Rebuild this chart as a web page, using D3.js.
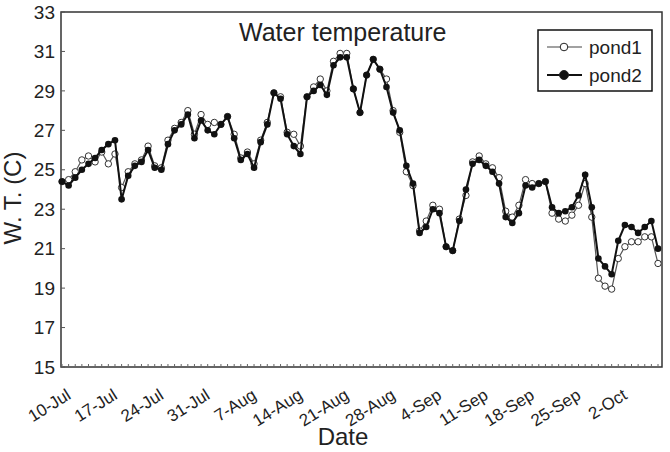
<!DOCTYPE html>
<html>
<head>
<meta charset="utf-8">
<script src="https://cdn.jsdelivr.net/npm/d3@7"></script>
<style>
  body { margin: 0; background: white; }
  svg { font-family: Arial, "Liberation Sans", sans-serif; }
</style>
</head>
<body>
<div id="chart"></div>
<script>
// chart data
const startDate = new Date(2010, 6, 10); // 10-Jul
const endDate = new Date(2010, 9, 8);    // 8-Oct
const dates = d3.timeDay.range(startDate, d3.timeDay.offset(endDate, 1));

const pond1 = [24.4, 24.5, 24.9, 25.5, 25.7, 25.4, 25.9, 25.3, 25.8, 24.1,
  24.9, 25.3, 25.5, 26.2, 25.2, 25.1, 26.5, 27.1, 27.4, 28.0,
  26.8, 27.8, 27.3, 27.4, 27.3, 27.7, 26.8, 25.6, 25.9, 25.3,
  26.5, 27.4, 28.9, 28.7, 26.9, 26.8, 26.2, 28.7, 29.2, 29.6,
  29.0, 30.5, 30.9, 30.9, 29.1, 27.9, 29.8, 30.6, 30.1, 29.6,
  28.0, 26.9, 24.9, 24.2, 21.9, 22.4, 23.2, 23.0, 21.1, 20.9,
  22.5, 23.7, 25.4, 25.7, 25.3, 25.1, 24.6, 22.9, 22.6, 23.2,
  24.5, 24.3, 24.3, 24.4, 22.8, 22.5, 22.4, 22.7, 23.2, 24.3,
  22.6, 19.5, 19.1, 18.95, 20.5, 21.1, 21.35, 21.35, 21.6, 21.6,
  20.25];

const pond2 = [24.4, 24.2, 24.6, 25.0, 25.3, 25.6, 26.0, 26.3, 26.5, 23.5,
  24.7, 25.2, 25.4, 26.0, 25.1, 25.0, 26.3, 27.0, 27.3, 27.8,
  26.6, 27.5, 27.0, 26.8, 27.3, 27.7, 26.6, 25.5, 25.8, 25.1,
  26.4, 27.3, 28.9, 28.6, 26.8, 26.2, 25.8, 28.7, 29.0, 29.3,
  28.8, 30.3, 30.7, 30.7, 29.1, 27.9, 29.8, 30.6, 30.1, 29.2,
  27.9, 27.0, 25.2, 24.3, 21.8, 22.1, 23.0, 22.8, 21.1, 20.9,
  22.4, 24.0, 25.3, 25.5, 25.2, 24.9, 24.3, 22.6, 22.3, 22.8,
  24.2, 24.1, 24.3, 24.4, 23.1, 22.8, 22.9, 23.1, 23.7, 24.75,
  23.1, 20.5, 20.1, 19.7, 21.4, 22.2, 22.1, 21.8, 22.1, 22.4,
  21.0];

const seriesNames = ["pond1", "pond2"];
const yTicks = [15, 17, 19, 21, 23, 25, 27, 29, 31, 33];
const xTickLabels = ["10-Jul", "17-Jul", "24-Jul", "31-Jul", "7-Aug", "14-Aug", "21-Aug",
  "28-Aug", "4-Sep", "11-Sep", "18-Sep", "25-Sep", "2-Oct"];

const width = 670;
const height = 452;
const plot = { left: 61, right: 662, top: 12, bottom: 367 };

const svg = d3.select("#chart").append("svg")
  .attr("width", width).attr("height", height);

const x = d3.scaleTime().domain([startDate, endDate]).range([62, 658]);
const y = d3.scaleLinear().domain([15, 33]).range([plot.bottom, plot.top]);

// plot frame
svg.append("rect")
  .attr("x", plot.left).attr("y", plot.top)
  .attr("width", plot.right - plot.left).attr("height", plot.bottom - plot.top)
  .attr("fill", "none").attr("stroke", "#333").attr("stroke-width", 1.5);

// y ticks (inside) and labels
svg.selectAll(".ytick").data(yTicks).enter().append("line")
  .attr("x1", plot.left).attr("x2", plot.left + 4)
  .attr("y1", d => y(d)).attr("y2", d => y(d))
  .attr("stroke", "#555").attr("stroke-width", 1);

svg.selectAll(".ylab").data(yTicks).enter().append("text")
  .attr("x", plot.left - 6).attr("y", d => y(d))
  .attr("dy", "0.35em").attr("text-anchor", "end")
  .attr("font-size", 19).attr("fill", "#222")
  .text(d => d);

// x minor ticks, one per day
svg.selectAll(".xtick").data(dates).enter().append("line")
  .attr("x1", d => x(d)).attr("x2", d => x(d))
  .attr("y1", plot.bottom).attr("y2", plot.bottom - 3)
  .attr("stroke", "#666").attr("stroke-width", 1);

// x labels every 7 days
const labelDates = xTickLabels.map((t, i) => d3.timeDay.offset(startDate, i * 7));
svg.selectAll(".xlab").data(labelDates).enter().append("text")
  .attr("transform", d => `translate(${x(d) + 10},${398}) rotate(-32)`)
  .attr("text-anchor", "end")
  .attr("font-size", 17).attr("fill", "#222")
  .text((d, i) => xTickLabels[i]);

// axis titles
svg.append("text")
  .attr("transform", "translate(21,198) rotate(-90)")
  .attr("text-anchor", "middle").attr("font-size", 24).attr("fill", "#222")
  .text("W. T. (C)");

svg.append("text")
  .attr("x", 343).attr("y", 445)
  .attr("text-anchor", "middle").attr("font-size", 24).attr("fill", "#222")
  .text("Date");

svg.append("text")
  .attr("x", 239).attr("y", 41)
  .attr("font-size", 25).attr("fill", "#222")
  .text("Water temperature");

// series
const line = d3.line().x((d, i) => x(dates[i])).y(d => y(d));

svg.append("path").datum(pond1)
  .attr("d", line).attr("fill", "none")
  .attr("stroke", "#555").attr("stroke-width", 1.2);
svg.selectAll(".p1").data(pond1).enter().append("circle")
  .attr("cx", (d, i) => x(dates[i])).attr("cy", d => y(d)).attr("r", 3.2)
  .attr("fill", "white").attr("stroke", "#333").attr("stroke-width", 1);

svg.append("path").datum(pond2)
  .attr("d", line).attr("fill", "none")
  .attr("stroke", "#111").attr("stroke-width", 2);
svg.selectAll(".p2").data(pond2).enter().append("circle")
  .attr("cx", (d, i) => x(dates[i])).attr("cy", d => y(d)).attr("r", 3.3)
  .attr("fill", "#111");

// legend
const legend = svg.append("g");
legend.append("rect")
  .attr("x", 538).attr("y", 30).attr("width", 114).attr("height", 61)
  .attr("fill", "white").attr("stroke", "#111").attr("stroke-width", 1.5);
seriesNames.forEach((name, i) => {
  const ly = 47 + i * 28;
  legend.append("line")
    .attr("x1", 547).attr("x2", 582).attr("y1", ly).attr("y2", ly)
    .attr("stroke", i === 0 ? "#444" : "#111").attr("stroke-width", i === 0 ? 1.2 : 2);
  legend.append("circle")
    .attr("cx", 564).attr("cy", ly).attr("r", i === 0 ? 3.8 : 4.5)
    .attr("fill", i === 0 ? "white" : "#111").attr("stroke", "#222").attr("stroke-width", 1);
  legend.append("text")
    .attr("x", 589).attr("y", ly).attr("dy", "0.35em")
    .attr("font-size", 19).attr("fill", "#222")
    .text(name);
});
</script>
</body>
</html>
